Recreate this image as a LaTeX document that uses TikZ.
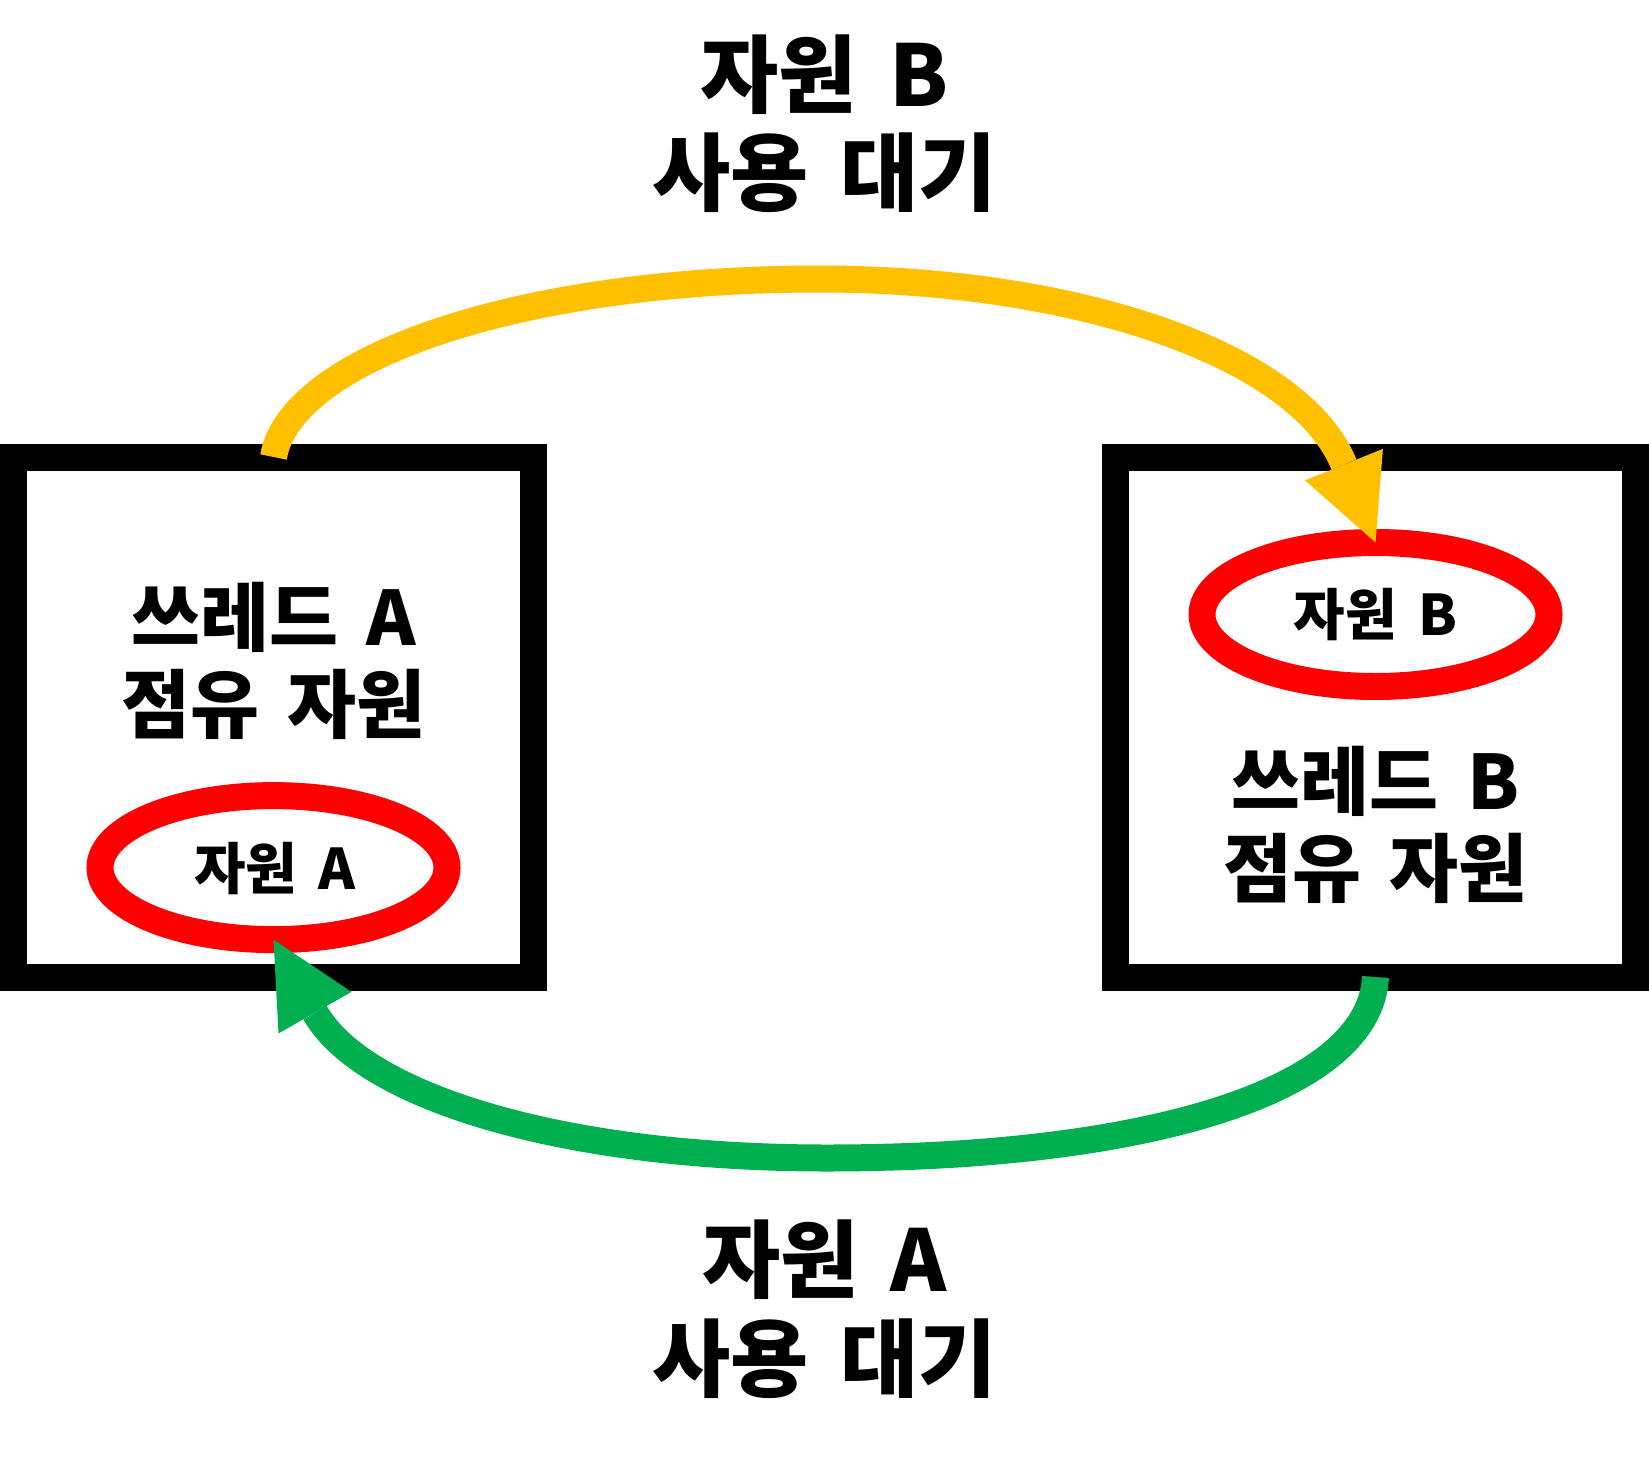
\documentclass[tikz,border=0pt]{standalone}
\usepackage{fontspec}
\setmainfont{Noto Sans CJK KR}[WordSpace=1.65]
\usetikzlibrary{arrows.meta,shapes.geometric}
\definecolor{yel}{HTML}{FFC000}
\definecolor{grn}{HTML}{00B050}
\definecolor{redc}{HTML}{FF0000}
\begin{document}
\begin{tikzpicture}[x=1pt,y=-1pt,
  box/.style={draw=black,line width=27pt,rectangle,minimum width=520pt,minimum height=520pt,inner sep=0pt,outer sep=0pt},
  res/.style={draw=redc,line width=27pt,ellipse,minimum width=347pt,minimum height=144pt,inner sep=0pt,outer sep=0pt},
  title/.style={anchor=base,inner sep=0pt,font=\fontsize{85pt}{100pt}\selectfont\bfseries},
  big/.style={anchor=base,inner sep=0pt,font=\fontsize{75pt}{88pt}\selectfont\bfseries},
  small/.style={anchor=base,inner sep=0pt,font=\fontsize{56pt}{66pt}\selectfont\bfseries},
  flow/.style={line width=27pt,-{Triangle[length=84pt,width=84pt,line width=0pt]}}
]
\useasboundingbox (0,0) rectangle (1649,1458);
% boxes
\node[box] (boxA) at (273.5,717) {};
\node[box] (boxB) at (1375.5,717) {};
% resources
\node[res] (ellA) at (273.5,867.6) {};
\node[res] (ellB) at (1375.5,614.5) {};
% texts
\node[title] (tB1) at (824.5,107) {자원 B};
\node[title] (tB2) at (824.5,205) {사용 대기};
\node[big] (a1) at (273.5,645) {쓰레드 A};
\node[big] (a2) at (273.5,732) {점유 자원};
\node[small] (ra) at (275,889) {자원 A};
\node[small] (rb) at (1375.5,635) {자원 B};
\node[big] (b1) at (1375.5,809) {쓰레드 B};
\node[big] (b2) at (1375.5,896) {점유 자원};
\node[title] (tA1) at (824.5,1291.5) {자원 A};
\node[title] (tA2) at (824.5,1390) {사용 대기};
% arrows
\draw[flow,yel] (boxA.north) .. controls (290,359) and (518,279) .. (819,279)
  .. controls (1080,279) and (1300,356) .. (ellB.north);
\draw[flow,grn] (boxB.south) .. controls (1370,1090) and (1150,1158) .. (826.8,1158)
  .. controls (560,1158) and (362.4,1095.9) .. (ellA.south);
\end{tikzpicture}
\end{document}
